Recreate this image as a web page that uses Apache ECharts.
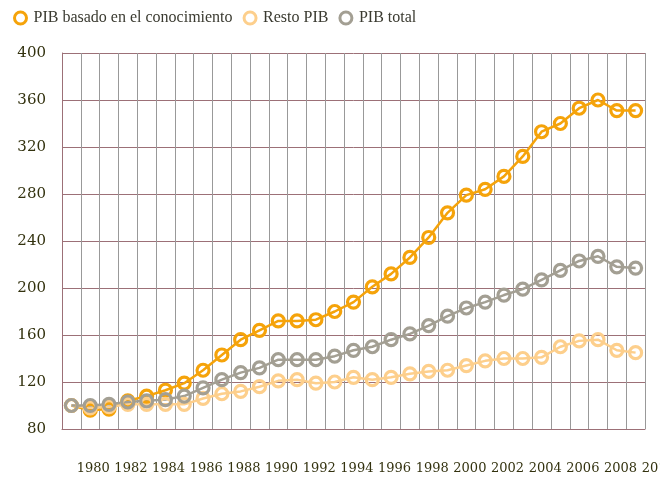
<!DOCTYPE html>
<html>
<head>
<meta charset="utf-8">
<script src="https://cdn.jsdelivr.net/npm/echarts@6/dist/echarts.min.js"></script>
<style>
  html, body { margin: 0; padding: 0; background: #fff; }
  #chart { width: 660px; height: 481px; }
</style>
</head>
<body>
<div id="chart"></div>
<script>
// años de la serie (1979-2009)
const years = ['1979','1980','1981','1982','1983','1984','1985','1986','1987','1988',
  '1989','1990','1991','1992','1993','1994','1995','1996','1997','1998',
  '1999','2000','2001','2002','2003','2004','2005','2006','2007','2008','2009']
// etiquetas del eje x (desplazadas como en el original, llegan hasta 2010)
const labelYears = years.concat(['2010'])

const pibConocimiento = [100, 96, 97, 104, 108, 113, 119, 130, 143, 156,
  164, 172, 172, 173, 180, 188, 201, 212, 226, 243,
  264, 279, 284, 295, 312, 333, 340, 353, 360, 351, 351]
const restoPib = [100, 98, 99, 101, 101, 101, 101, 106, 110, 112,
  116, 121, 122, 119, 120, 124, 122, 124, 127, 129,
  130, 134, 138, 140, 140, 141, 150, 155, 156, 147, 145]
const pibTotal = [100, 100, 101, 103, 104, 105, 108, 115, 122, 128,
  132, 139, 139, 139, 142, 147, 150, 156, 161, 168,
  176, 183, 188, 194, 199, 207, 215, 223, 227, 218, 217]

const yTicks = { min: 80, max: 400, step: 40 }

const chart = echarts.init(document.getElementById('chart'))

const txtColor = '#33320f'
const gridRed = '#9c7077'

function serie (name, data, color) {
  return {
    name: name,
    type: 'line',
    data: data,
    symbol: 'circle',
    symbolSize: 12,
    showAllSymbol: true,
    lineStyle: { color: color, width: 2.5 },
    itemStyle: { color: 'rgba(255,255,255,0)', borderColor: color, borderWidth: 3.2 },
    emphasis: { disabled: true },
    z: 2
  }
}

const option = {
  backgroundColor: '#fff',
  animation: false,
  legend: {
    left: 8,
    top: 5,
    itemGap: 10,
    itemWidth: 12,
    itemHeight: 12,
    icon: 'circle',
    itemStyle: { borderWidth: 3 },
    textStyle: { fontFamily: 'Liberation Serif', fontSize: 16, color: '#3a3a30', padding: [0, 0, 0, 2] },
    data: [
      { name: 'PIB basado en el conocimiento' },
      { name: 'Resto PIB', textStyle: { width: 73 } },
      { name: 'PIB total' }
    ]
  },
  grid: [
    { left: 62, right: 15, top: 53, bottom: 52, outerBoundsMode: 'none' },
    // solo para las etiquetas del eje x
    { left: 65, width: 602.6, top: 53, bottom: 52, outerBoundsMode: 'none' }
  ],
  xAxis: [{
    type: 'category',
    data: years,
    boundaryGap: true,
    axisLine: { show: true, lineStyle: { color: gridRed, width: 1 } },
    axisTick: { show: false },
    axisLabel: { show: false },
    splitLine: { show: true, interval: 0, lineStyle: { color: '#999', width: 1 } }
  }, {
    type: 'category',
    gridIndex: 1,
    data: labelYears,
    boundaryGap: true,
    axisLine: { show: false },
    axisTick: { show: false },
    splitLine: { show: false },
    axisLabel: {
      show: true,
      margin: 33,
      interval: function (idx, val) { return Number(val) % 2 === 0 },
      hideOverlap: false,
      color: txtColor,
      fontFamily: 'DejaVu Serif',
      fontSize: 13
    }
  }],
  yAxis: [{
    type: 'value',
    min: yTicks.min,
    max: yTicks.max,
    interval: yTicks.step,
    axisLine: { show: true, lineStyle: { color: gridRed, width: 1 } },
    axisTick: { show: false },
    axisLabel: {
      color: txtColor,
      fontFamily: 'DejaVu Serif',
      fontSize: 15,
      margin: 16
    },
    splitLine: { show: true, lineStyle: { color: gridRed, width: 1 } }
  }, {
    type: 'value',
    gridIndex: 1,
    show: false
  }],
  series: [
    serie('PIB basado en el conocimiento', pibConocimiento, '#f5a30a'),
    serie('Resto PIB', restoPib, '#fdcf8c'),
    serie('PIB total', pibTotal, '#a39f93')
  ]
}

chart.setOption(option)
</script>
</body>
</html>
